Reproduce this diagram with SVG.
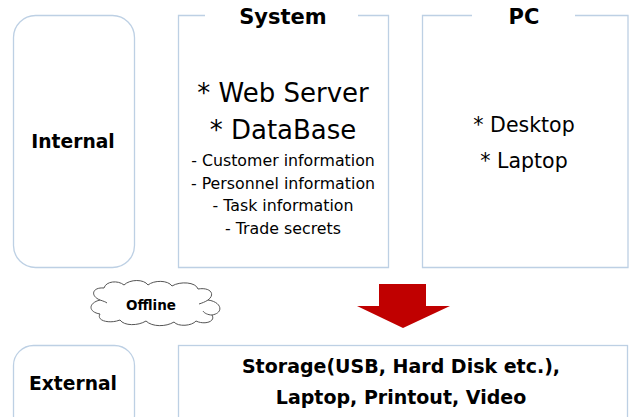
<svg xmlns="http://www.w3.org/2000/svg" width="629" height="417" viewBox="0 0 629 417">
<style>
.box{fill:#fff;stroke:#bdd0e4;stroke-width:1.3}
.t{font-family:"DejaVu Sans","Noto Sans",sans-serif;fill:#000;text-anchor:middle}
.b{font-weight:bold}
</style>
<rect width="629" height="417" fill="#fff"/>
<g id="internal">
<rect class="box" x="13.5" y="15.5" width="121" height="252" rx="22"/>
<text class="t b" x="73" y="148" font-size="18.7">Internal</text>
</g>
<g id="system">
<path class="box" fill="none" d="M205 15.5H178.5V267.5H388.5V15.5H358"/>
<text class="t b" x="283" y="24" font-size="21">System</text>
<text class="t" x="283" y="102" font-size="26">* Web Server</text>
<text class="t" x="283" y="139" font-size="26">* DataBase</text>
<text class="t" x="283" y="166" font-size="15.8">- Customer information</text>
<text class="t" x="283" y="189" font-size="15.8">- Personnel information</text>
<text class="t" x="283" y="211" font-size="15.8">- Task information</text>
<text class="t" x="283" y="234" font-size="15.8">- Trade secrets</text>
</g>
<g id="pc">
<path class="box" fill="none" d="M472 15.5H422.5V267.5H628V15.5H575"/>
<text class="t b" x="524" y="24" font-size="21">PC</text>
<text class="t" x="524" y="132" font-size="20.5">* Desktop</text>
<text class="t" x="524" y="168" font-size="20.5">* Laptop</text>
</g>
<g id="offline">
<path fill="#fff" stroke="#555" stroke-width="1" d="M100 300C90 296 92 287 104 288C106 281 118 280 124 285C130 279 144 279 148 285C154 280 168 280 172 286C180 281 196 282 198 289C210 287 216 294 208 300C222 302 224 313 212 315C216 322 204 325 196 321C192 326 178 327 174 322C166 327 152 327 146 321C138 326 124 326 120 320C110 324 96 321 100 314C88 312 88 303 100 300Z"/>
<path fill="none" stroke="#555" stroke-width="1" d="M100 300C103 301 106 302 107 303M208 300C205 302 202 303 199 304M212 315C208 315 204 313 203 311"/>
<text class="t b" x="151" y="310" font-size="13.5">Offline</text>
</g>
<g id="connectors">
<path fill="#c00000" d="M379 284H426V306H450L403 328L357 306H379Z"/>
</g>
<g id="external">
<rect class="box" x="13.5" y="345.5" width="121" height="90" rx="20"/>
<text class="t b" x="73" y="390" font-size="18.7">External</text>
</g>
<g id="media">
<rect class="box" x="178.5" y="345.5" width="449" height="90"/>
<text class="t b" x="401" y="373" font-size="19">Storage(USB, Hard Disk etc.),</text>
<text class="t b" x="401" y="404" font-size="19">Laptop, Printout, Video</text>
</g>
</svg>
